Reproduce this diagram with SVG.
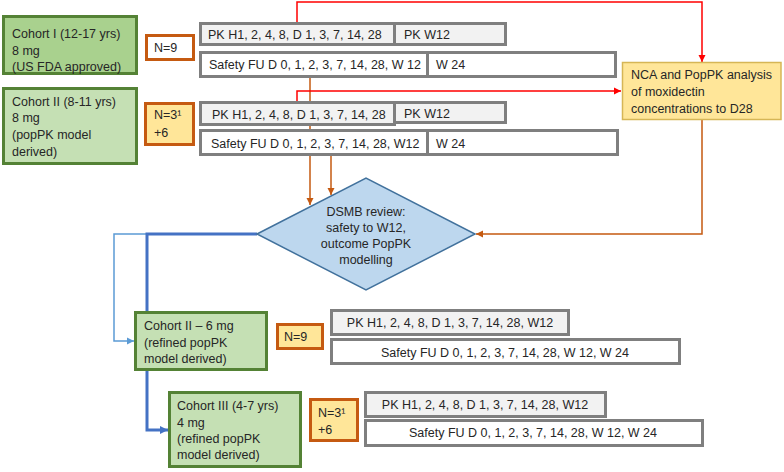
<svg xmlns="http://www.w3.org/2000/svg" width="784" height="472" viewBox="0 0 784 472">
<style>
text{font-family:"Liberation Sans",Arial,sans-serif;font-size:12.5px;fill:#262626}
.c{text-anchor:middle}
.pk{fill:#f2f2f2;stroke:#7f7f7f;stroke-width:3}
.sf{fill:#ffffff;stroke:#7f7f7f;stroke-width:3}
.co1{fill:#a9d18e;stroke:#548235;stroke-width:3}
.co{fill:#c5e0b4;stroke:#548235;stroke-width:3}
.nw{fill:#ffffff;stroke:#c55a11;stroke-width:3}
.ny{fill:#ffe699;stroke:#c55a11;stroke-width:3}
.red{fill:none;stroke:#ff0000;stroke-width:1.5}
.org{fill:none;stroke:#c55a11;stroke-width:1.5}
.bt{fill:none;stroke:#5b9bd5;stroke-width:1.5}
.bk{fill:none;stroke:#4472c4;stroke-width:3}
</style>
<defs>
<marker id="aR" markerUnits="userSpaceOnUse" markerWidth="8" markerHeight="8" refX="7" refY="4" orient="auto"><path d="M0,0.5 L7,4 L0,7.5 Z" fill="#ff0000"/></marker>
<marker id="aO" markerUnits="userSpaceOnUse" markerWidth="8" markerHeight="8" refX="7" refY="4" orient="auto"><path d="M0,0.5 L7,4 L0,7.5 Z" fill="#c55a11"/></marker>
<marker id="aB" markerUnits="userSpaceOnUse" markerWidth="9" markerHeight="9" refX="8" refY="4.5" orient="auto"><path d="M0,0.5 L8,4.5 L0,8.5 Z" fill="#4472c4"/></marker>
<marker id="aBt" markerUnits="userSpaceOnUse" markerWidth="8" markerHeight="8" refX="7" refY="4" orient="auto"><path d="M0,0.5 L7,4 L0,7.5 Z" fill="#5b9bd5"/></marker>
</defs>
<g id="connectors">
<path class="org" d="M310,77 V205" marker-end="url(#aO)"/>
<path class="org" d="M331,155 V195" marker-end="url(#aO)"/>
<path class="org" d="M702,120 V234 H476" marker-end="url(#aO)"/>
<path class="red" d="M297,22 V2 H702 V62" marker-end="url(#aR)"/>
<path class="red" d="M297,102 V91 H621" marker-end="url(#aR)"/>
<path class="bt" d="M257,234 H114 V341 H134" marker-end="url(#aBt)"/>
<path class="bk" d="M147,311 V234 H257"/>
<path class="bk" d="M147,371 V430 H168" marker-end="url(#aB)"/>
</g>
<g id="cohort1"><rect class="co1" x="3.5" y="16.5" width="133" height="57"/>
<text x="12" y="38">Cohort I (12-17 yrs)</text><text x="12" y="55">8 mg</text><text x="12" y="71">(US FDA approved)</text></g>
<g id="n1"><rect class="nw" x="146.5" y="35.5" width="47" height="24"/><text x="154" y="52">N=9</text></g>
<g id="pk1"><rect class="pk" x="200.5" y="23.5" width="194" height="21"/><text x="208" y="39">PK H1, 2, 4, 8, D 1, 3, 7, 14, 28</text></g>
<g id="pkw1"><rect class="pk" x="394.5" y="23.5" width="111" height="21"/><text x="404" y="39">PK W12</text></g>
<g id="sf1"><rect class="sf" x="200.5" y="52.5" width="227" height="24"/><text x="209" y="69">Safety FU D 0, 1, 2, 3, 7, 14, 28, W 12</text></g>
<g id="sw1"><rect class="sf" x="427.5" y="52.5" width="188" height="24"/><text x="436" y="69">W 24</text></g>
<g id="cohort2"><rect class="co" x="3.5" y="88.5" width="133" height="75"/>
<text x="12" y="106">Cohort II (8-11 yrs)</text><text x="12" y="122">8 mg</text><text x="12" y="139">(popPK model</text><text x="12" y="156">derived)</text></g>
<g id="n2"><rect class="ny" x="145.5" y="103.5" width="48" height="41"/><text x="154" y="119">N=3¹</text><text x="154" y="137">+6</text></g>
<g id="pk2"><rect class="pk" x="200.5" y="102.5" width="194" height="22"/><text x="212" y="119">PK H1, 2, 4, 8, D 1, 3, 7, 14, 28</text></g>
<g id="pkw2"><rect class="pk" x="394.5" y="102.5" width="111" height="20"/><text x="404" y="118">PK W12</text></g>
<g id="sf2"><rect class="sf" x="200.5" y="130.5" width="227" height="24"/><text x="211" y="148">Safety FU D 0, 1, 2, 3, 7, 14, 28, W12</text></g>
<g id="sw2"><rect class="sf" x="427.5" y="130.5" width="190" height="24"/><text x="436" y="148">W 24</text></g>
<g id="nca"><rect x="622.5" y="62.5" width="158.5" height="57" fill="#ffe699" stroke="#d6b656" stroke-width="1.5"/>
<text x="631" y="79">NCA and PopPK analysis</text><text x="631" y="96">of moxidectin</text><text x="631" y="113">concentrations to D28</text></g>
<g id="dsmb"><polygon points="257,234 366,178 475,234 366,290" fill="#bdd7ee" stroke="#41719c" stroke-width="1.5"/>
<text class="c" x="366" y="216">DSMB review:</text><text class="c" x="366" y="232">safety to W12,</text><text class="c" x="366" y="248">outcome PopPK</text><text class="c" x="366" y="264">modelling</text></g>
<g id="cohort2b"><rect class="co" x="135.5" y="312.5" width="131" height="57"/>
<text x="144" y="330">Cohort II – 6 mg</text><text x="144" y="347">(refined popPK</text><text x="144" y="363">model derived)</text></g>
<g id="n3"><rect class="ny" x="277.5" y="324.5" width="45" height="24"/><text x="284" y="341">N=9</text></g>
<g id="pk3"><rect class="pk" x="331.5" y="310.5" width="237" height="24"/><text class="c" x="450" y="327">PK H1, 2, 4, 8, D 1, 3, 7, 14, 28, W12</text></g>
<g id="sf3"><rect class="sf" x="331.5" y="339.5" width="348" height="24"/><text class="c" x="505" y="357">Safety FU D 0, 1, 2, 3, 7, 14, 28, W 12, W 24</text></g>
<g id="cohort3"><rect class="co" x="169.5" y="392.5" width="131" height="74"/>
<text x="177" y="410">Cohort III (4-7 yrs)</text><text x="177" y="427">4 mg</text><text x="177" y="443">(refined popPK</text><text x="177" y="459">model derived)</text></g>
<g id="n4"><rect class="ny" x="310.5" y="399.5" width="47" height="41"/><text x="318" y="417">N=3¹</text><text x="318" y="434">+6</text></g>
<g id="pk4"><rect class="pk" x="365.5" y="392.5" width="240" height="24"/><text class="c" x="485" y="409">PK H1, 2, 4, 8, D 1, 3, 7, 14, 28, W12</text></g>
<g id="sf4"><rect class="sf" x="365.5" y="420.5" width="337" height="25"/><text class="c" x="533" y="437">Safety FU D 0, 1, 2, 3, 7, 14, 28, W 12, W 24</text></g>
</svg>
